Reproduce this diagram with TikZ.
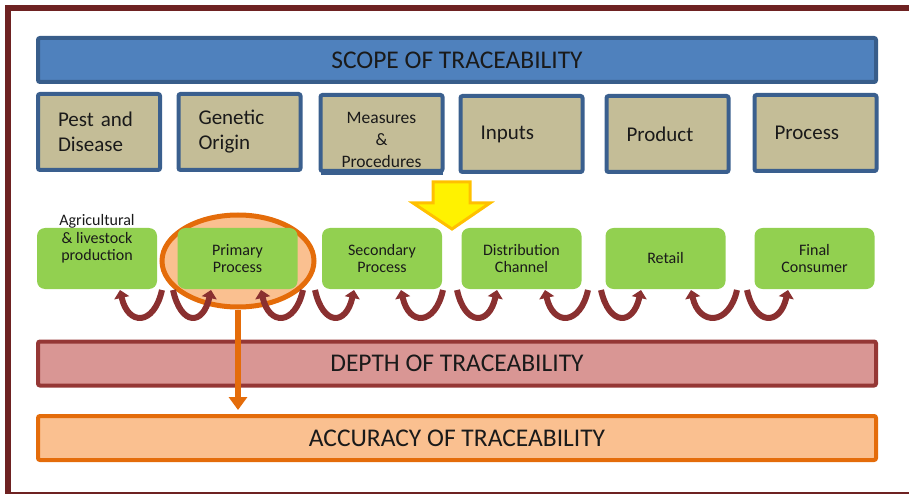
\documentclass[tikz,border=0pt]{standalone}
\usepackage{fontspec}
\setmainfont{Carlito}
\usetikzlibrary{shapes.geometric,arrows.meta}
\definecolor{framered}{HTML}{6E2222}
\definecolor{scopefill}{HTML}{4F81BD}
\definecolor{scopeline}{HTML}{385D8A}
\definecolor{beigefill}{HTML}{C4BD97}
\definecolor{boxline}{HTML}{3A5F8E}
\definecolor{greenfill}{HTML}{92D050}
\definecolor{depthfill}{HTML}{D99694}
\definecolor{depthline}{HTML}{953735}
\definecolor{accfill}{HTML}{FAC090}
\definecolor{accline}{HTML}{E46C0A}
\definecolor{uarrowcol}{HTML}{8A3030}
\definecolor{yellowline}{HTML}{FFC000}
\definecolor{textcol}{HTML}{1A1A1A}
\begin{document}
\begin{tikzpicture}[x=1pt,y=-1pt,
  bar/.style={rectangle, rounded corners=2pt, line width=4pt, minimum width=838pt,
    minimum height=44pt, inner sep=0pt, text=textcol, font=\fontsize{25.5}{30}\selectfont},
  beigebox/.style={rectangle, rounded corners=2pt, draw=boxline, fill=beigefill, line width=4pt,
    minimum width=122pt, minimum height=76pt, inner xsep=20pt, inner ysep=0pt,
    text width=82pt, align=left, text=textcol, font=\fontsize{21}{25}\selectfont},
  greenbox/.style={rectangle, rounded corners=8pt, fill=greenfill, minimum width=120pt,
    minimum height=61pt, inner sep=0pt, align=center, text=textcol,
    font=\fontsize{16}{17.5}\selectfont},
  plaintext/.style={inner sep=0pt, align=center, text=textcol},
  uturn/.style={draw=uarrowcol, line width=6pt, -{Triangle[width=15pt,length=8pt]}},
  focusring/.style={ellipse, draw=accline, fill=accfill, line width=5pt,
    minimum width=152pt, minimum height=92pt, inner sep=0pt},
  depthlink/.style={draw=accline, line width=6pt, -{Triangle[width=18pt,length=13pt]}}
]
\useasboundingbox (0,0) rectangle (909,494);
% outer frame
\draw[framered, line width=6pt] (8,8) rectangle (935,495);

% scope bar
\node[bar, draw=scopeline, fill=scopefill] (scope) at (457,60) {SCOPE OF TRACEABILITY};

% scope boxes
\node[beigebox] (pest) at (99,132) {Pest and\\Disease};
\node[beigebox] (gen) at (239.5,132) {Genetic\\Origin};
\node[beigebox, text width=0pt, inner xsep=61pt] (meas) at (381.5,133) {};
\node[plaintext, font=\fontsize{17.5}{22}\selectfont] (meastext) at (381.5,140) {Measures\\\&\\Procedures};
\draw[boxline, line width=4pt] ([xshift=2pt]meas.south west) -- ([xshift=-2pt]meas.south east);
\node[beigebox] (inp) at (521.5,134) {Inputs};
\node[beigebox] (prod) at (667.5,134) {Product};
\node[beigebox] (proc) at (815.5,133) {Process};

% yellow block arrow
\draw[fill=yellow, draw=yellowline, line width=3pt, line join=miter]
  (433,182) -- (470,182) -- (470,203) -- (490,203) -- (452,229) -- (413,203) -- (433,203) -- cycle;

% focus ellipse
\node[focusring] (focus) at (238,261) {};

% chain boxes
\node[greenbox] (agri) at (97,258.5) {};
\node[plaintext, font=\fontsize{16}{17.5}\selectfont] (agritext) at (97,239) {Agricultural\\\& livestock\\production};
\node[greenbox] (prim) at (237.5,258.5) {Primary\\Process};
\node[greenbox] (sec) at (382,258.5) {Secondary\\Process};
\node[greenbox] (dist) at (521.5,258.5) {Distribution\\Channel};
\node[greenbox] (ret) at (665.5,258.5) {Retail};
\node[greenbox] (cons) at (814.5,258.5) {Final\\Consumer};

% U-turn arrows (head on left end)
\foreach \l/\r in {120/162, 261/303, 401/443, 545/588, 691/737}
  \draw[uturn] (\r,290) .. controls ({\r-8},326) and ({\l+8},326) .. (\l,290);
% U-turn arrows (head on right end)
\foreach \l/\r in {173/211, 315/354, 457/497, 601/641, 747/788}
  \draw[uturn] (\l,290) .. controls ({\l+8},326) and ({\r-8},326) .. (\r,290);

% depth and accuracy bars
\node[bar, draw=depthline, fill=depthfill] (depth) at (457,363.5) {DEPTH OF TRACEABILITY};
\node[bar, draw=accline, fill=accfill] (acc) at (457,438) {ACCURACY OF TRACEABILITY};

% link from focus to accuracy
\draw[depthlink, shorten >=4pt] (focus.south) -- (focus.south |- acc.north);
\end{tikzpicture}
\end{document}
